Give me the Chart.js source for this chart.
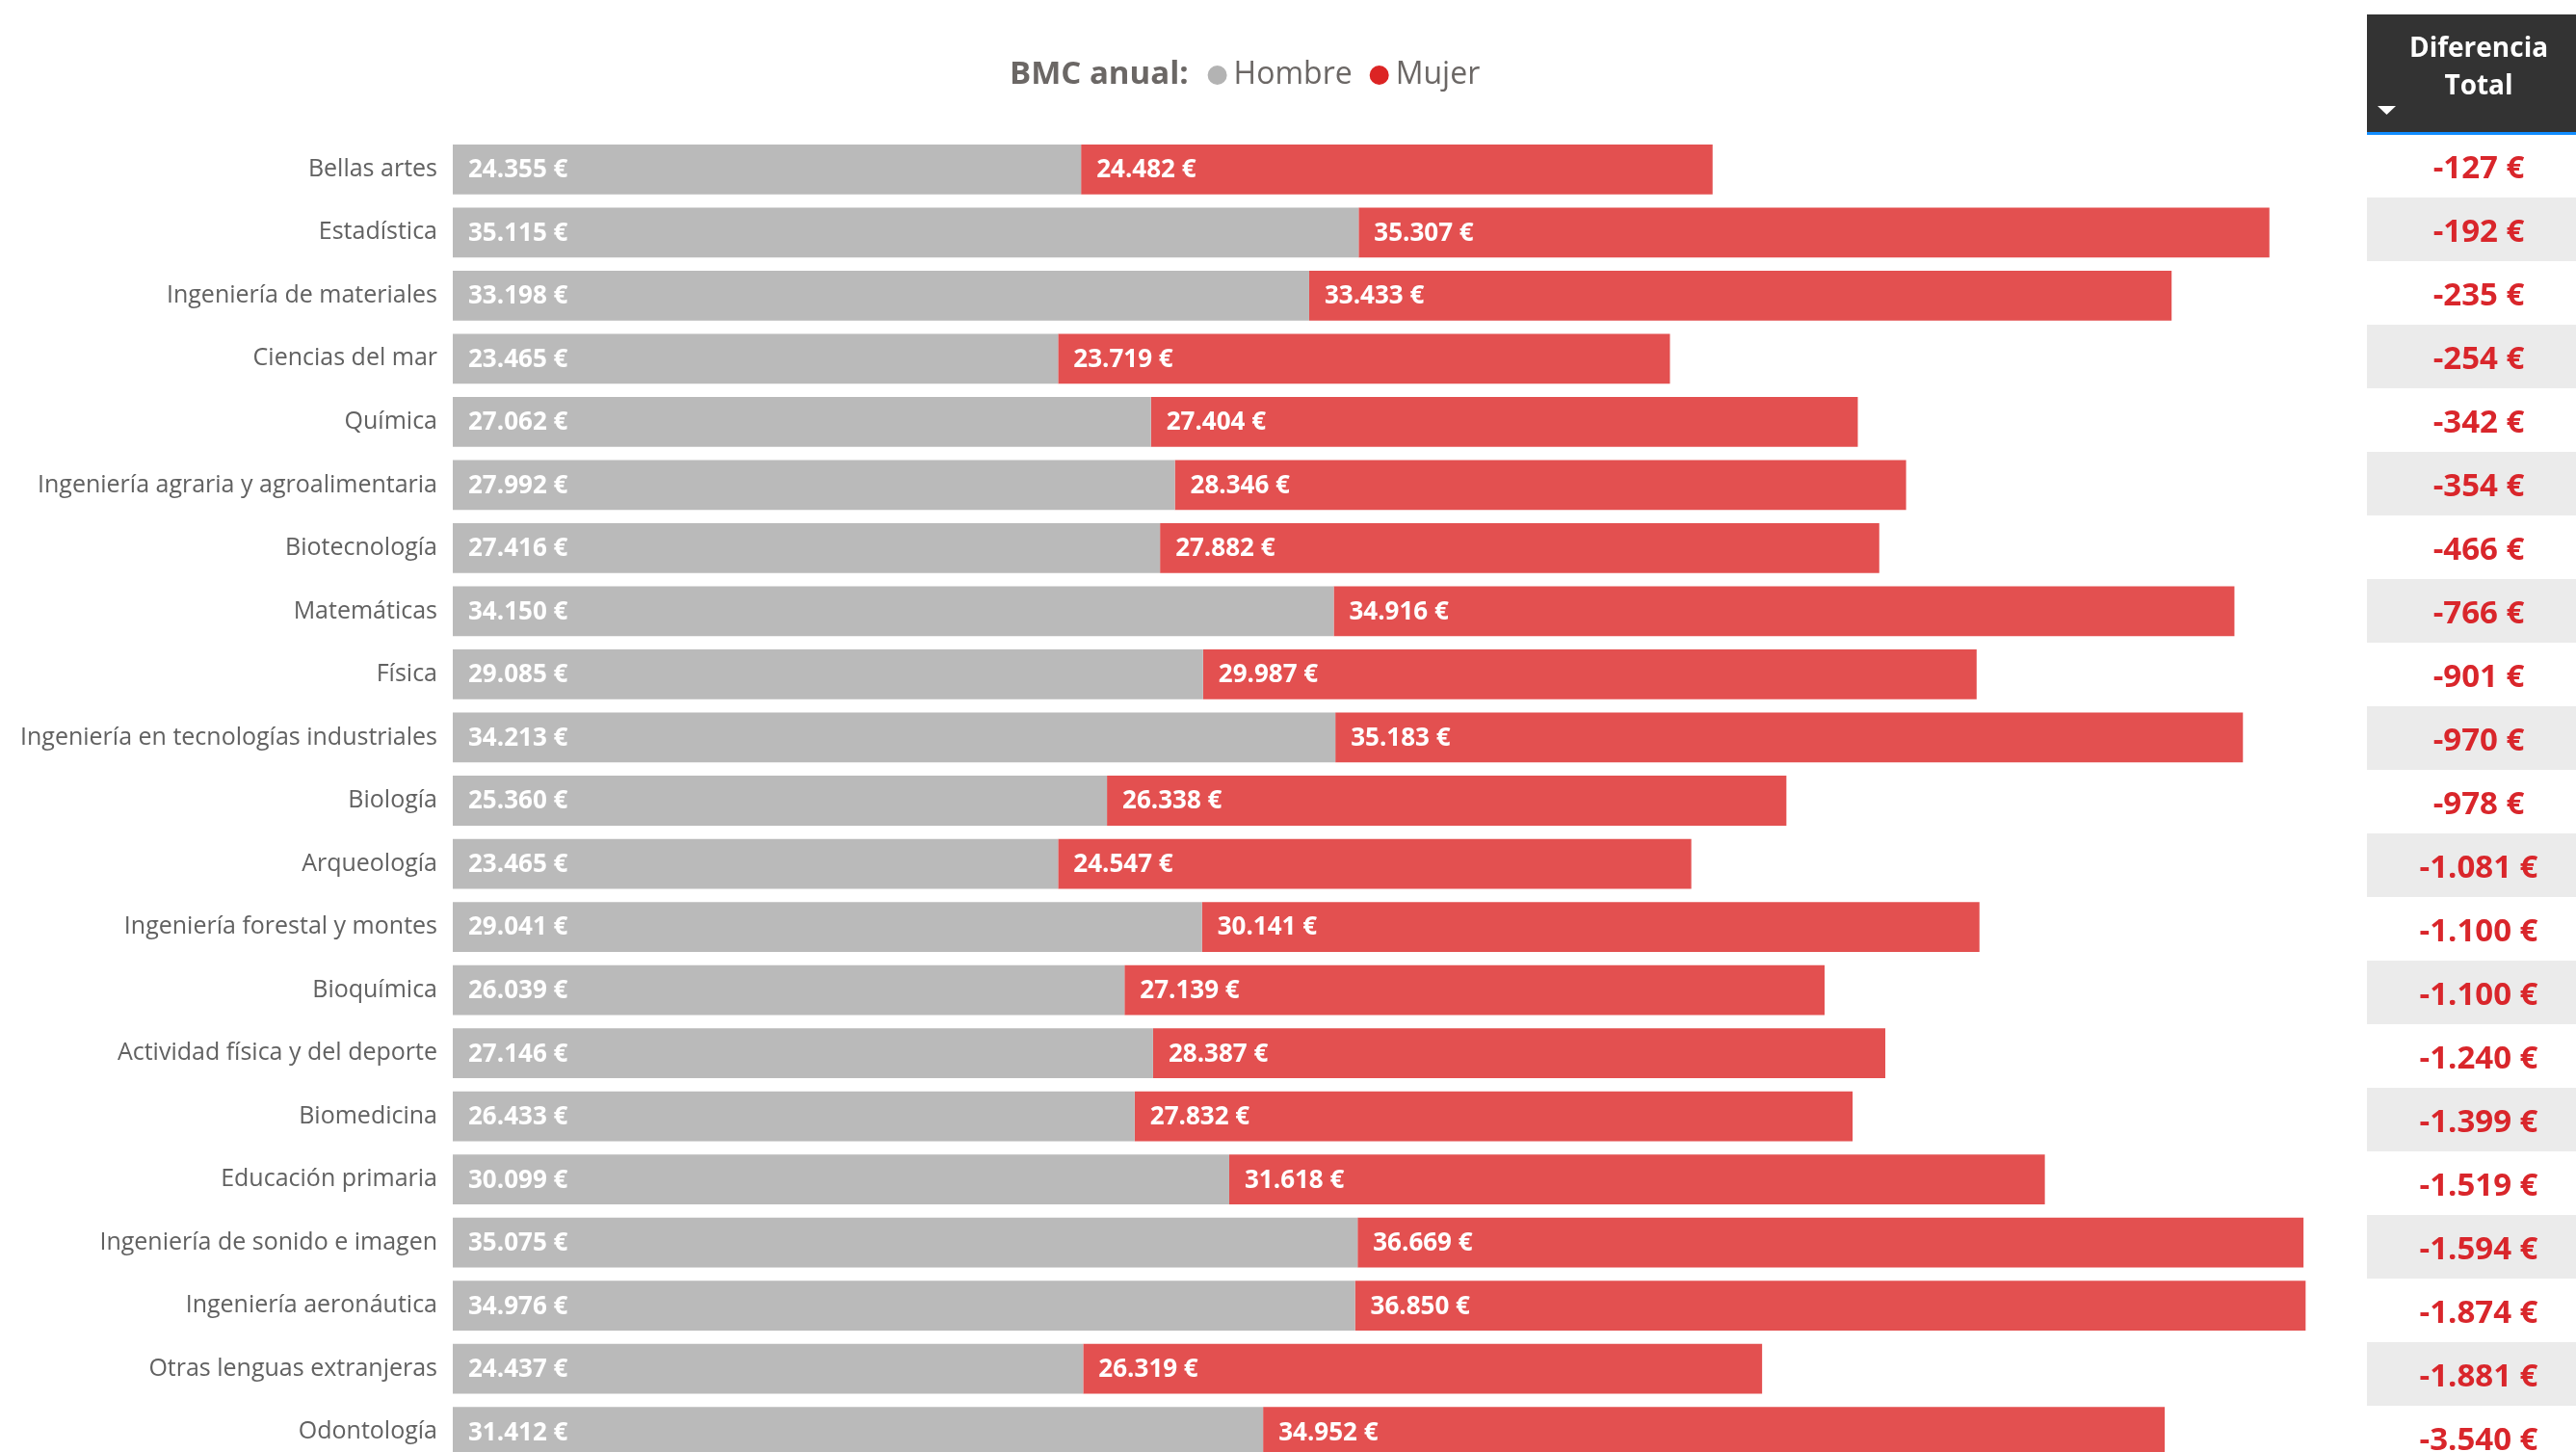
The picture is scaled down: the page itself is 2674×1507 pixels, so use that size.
<!DOCTYPE html>
<html>
<head>
<meta charset="utf-8">
<script src="https://cdn.jsdelivr.net/npm/chart.js@4"></script>
<style>
  html, body { margin: 0; padding: 0; background: #fff; overflow: hidden; }
  #myChart { display: block; width: 2674px; height: 1550px; }
</style>
</head>
<body>
<canvas id="myChart" width="2674" height="1550"></canvas>
<script>
const categorias = ['Bellas artes', 'Estadística', 'Ingeniería de materiales', 'Ciencias del mar', 'Química',
  'Ingeniería agraria y agroalimentaria', 'Biotecnología', 'Matemáticas', 'Física',
  'Ingeniería en tecnologías industriales', 'Biología', 'Arqueología', 'Ingeniería forestal y montes',
  'Bioquímica', 'Actividad física y del deporte', 'Biomedicina', 'Educación primaria',
  'Ingeniería de sonido e imagen', 'Ingeniería aeronáutica', 'Otras lenguas extranjeras', 'Odontología'];
const hombre = [24355, 35115, 33198, 23465, 27062, 27992, 27416, 34150, 29085, 34213, 25360,
  23465, 29041, 26039, 27146, 26433, 30099, 35075, 34976, 24437, 31412];
const mujer = [24482, 35307, 33433, 23719, 27404, 28346, 27882, 34916, 29987, 35183, 26338,
  24547, 30141, 27139, 28387, 27832, 31618, 36669, 36850, 26319, 34952];
const diferencia = [-127, -192, -235, -254, -342, -354, -466, -766, -901, -970, -978,
  -1081, -1100, -1100, -1240, -1399, -1519, -1594, -1874, -1881, -3540];

const FONT = "'Open Sans', 'Noto Sans', sans-serif";

function euros(v) {
  const s = String(Math.abs(v)).replace(/\B(?=(\d{3})+(?!\d))/g, '.');
  return (v < 0 ? '-' : '') + s + ' €';
}

// value labels inside each bar segment
const barLabels = {
  id: 'barLabels',
  afterDatasetsDraw(chart) {
    const c = chart.ctx;
    c.save();
    c.font = 'bold 26px ' + FONT;
    c.fillStyle = '#ffffff';
    c.textAlign = 'left';
    c.textBaseline = 'middle';
    chart.data.datasets.forEach((ds, di) => {
      chart.getDatasetMeta(di).data.forEach((bar, i) => {
        c.fillText(euros(ds.data[i]), Math.min(bar.base, bar.x) + 16, bar.y + 1);
      });
    });
    c.restore();
  }
};

// "BMC anual: ● Hombre ● Mujer"
const leyenda = {
  id: 'leyenda',
  afterDraw(chart) {
    const c = chart.ctx;
    const y = 78;
    let x = 1048;
    c.save();
    c.textBaseline = 'middle';
    c.textAlign = 'left';
    c.fillStyle = '#6b6765';
    c.font = 'bold 33px ' + FONT;
    c.fillText('BMC anual:', x, y);
    x += c.measureText('BMC anual:').width + 30;
    const items = [['Hombre', '#b3b3b3'], ['Mujer', '#dc2424']];
    c.font = '32px ' + FONT;
    items.forEach(([t, col]) => {
      c.beginPath();
      c.fillStyle = col;
      c.arc(x, y, 10, 0, Math.PI * 2);
      c.fill();
      x += 17;
      c.fillStyle = '#6b6765';
      c.fillText(t, x, y);
      x += c.measureText(t).width + 28;
    });
    c.restore();
  }
};

// "Diferencia Total" column on the right
const tabla = {
  id: 'tabla',
  afterDraw(chart) {
    const c = chart.ctx;
    const x0 = 2457, x1 = 2674, cx = 2573;
    c.save();
    c.fillStyle = '#333333';
    c.fillRect(x0, 15, x1 - x0, 122);
    c.fillStyle = '#118dff';
    c.fillRect(x0, 137, x1 - x0, 3);
    c.fillStyle = '#ffffff';
    c.font = 'bold 28px ' + FONT;
    c.textAlign = 'center';
    c.textBaseline = 'middle';
    c.fillText('Diferencia', cx, 51);
    c.fillText('Total', cx, 90);
    c.beginPath();
    c.moveTo(x0 + 11, 110);
    c.lineTo(x0 + 30, 110);
    c.lineTo(x0 + 20.5, 119);
    c.closePath();
    c.fill();
    diferencia.forEach((v, i) => {
      const yc = 172 + i * 66;
      if (i % 2 === 1) {
        c.fillStyle = '#ebebeb';
        c.fillRect(x0, yc - 33, x1 - x0, 66);
      }
      c.fillStyle = '#d9262b';
      c.font = 'bold 33px ' + FONT;
      c.fillText(euros(v), cx, yc + 4);
    });
    c.restore();
  }
};

new Chart(document.getElementById('myChart'), {
  type: 'bar',
  data: {
    labels: categorias,
    datasets: [{
      label: 'Hombre',
      data: hombre,
      backgroundColor: '#bababa',
      barPercentage: 0.79,
      categoryPercentage: 1
    }, {
      label: 'Mujer',
      data: mujer,
      backgroundColor: '#e35050',
      barPercentage: 0.79,
      categoryPercentage: 1
    }]
  },
  options: {
    indexAxis: 'y',
    responsive: false,
    animation: false,
    layout: { padding: { top: 143, right: 276, bottom: 10, left: 0 } },
    plugins: { legend: { display: false }, tooltip: { enabled: false } },
    scales: {
      x: { stacked: true, min: 0, max: 72000, display: false },
      y: {
        stacked: true,
        grid: { display: false, drawTicks: false },
        border: { display: false },
        ticks: { color: '#616161', padding: 16, font: { family: FONT, size: 25 } },
        afterFit(scale) { scale.width = 470; }
      }
    }
  },
  plugins: [barLabels, leyenda, tabla]
});
</script>
</body>
</html>
